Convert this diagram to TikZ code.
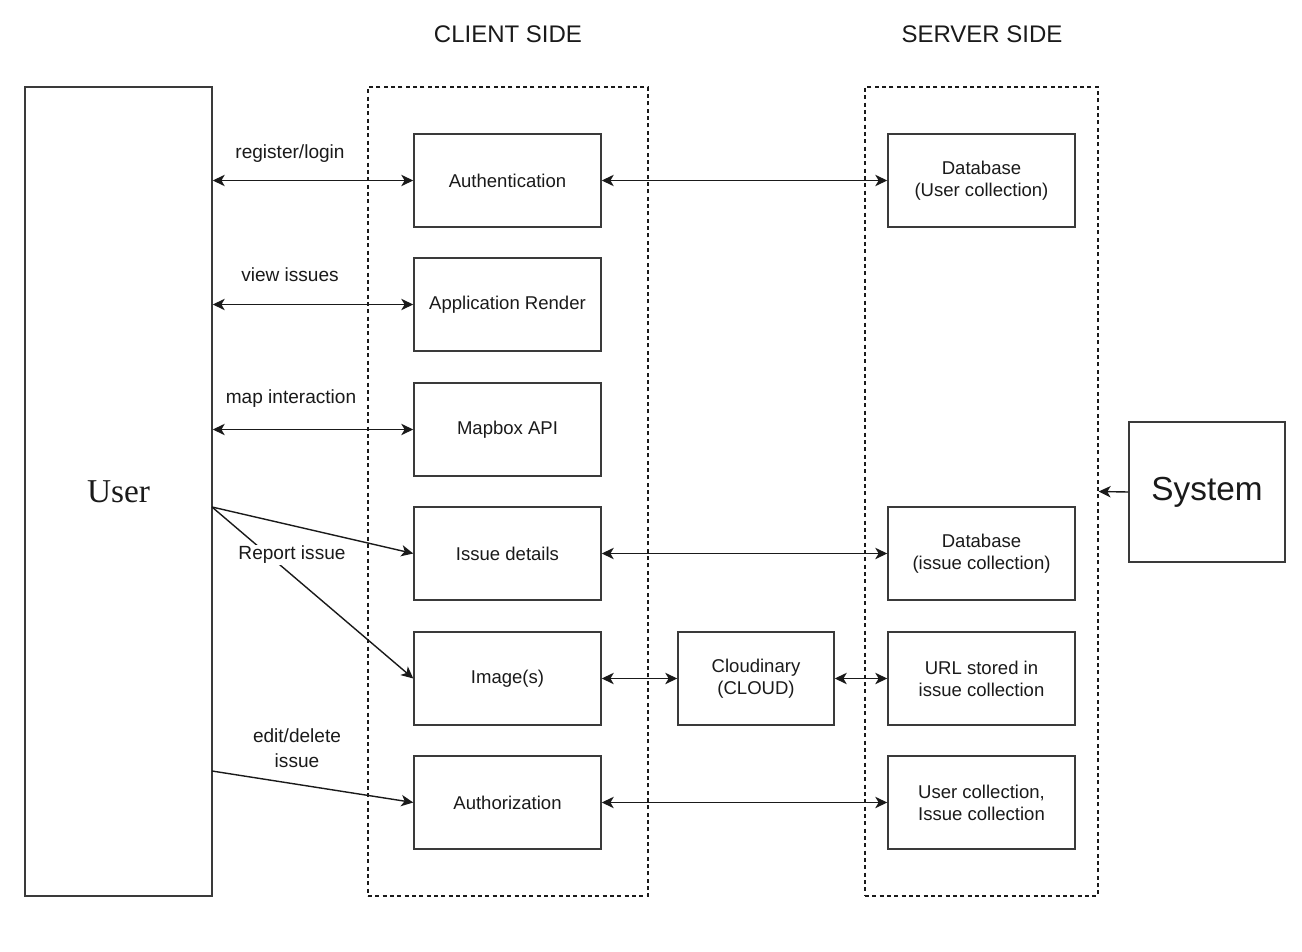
\documentclass[tikz,border=0pt]{standalone}
\usepackage{fontspec}
\setmainfont{Liberation Sans}
\newfontfamily\userfont{Liberation Serif}
\usetikzlibrary{arrows.meta}
\definecolor{boxgray}{HTML}{3A3A3A}
\definecolor{ink}{HTML}{1A1A1A}
\begin{document}
\begin{tikzpicture}[x=0.75pt,y=-0.75pt,
  box/.style={draw=boxgray, line width=1.1pt, inner sep=0pt, text=ink, align=center,
    minimum width=140.25pt, minimum height=69.75pt, font=\fontsize{13.9}{16.5}\selectfont},
  zone/.style={draw=ink, line width=0.9pt, dash pattern=on 3pt off 2.5pt, inner sep=0pt,
    minimum height=606.75pt},
  tip/.tip={Stealth[length=9pt,width=8.5pt,inset=2.5pt]},
  conn/.style={draw=ink, line width=1.05pt, -tip},
  biconn/.style={draw=ink, line width=1.05pt, tip-tip},
  lbl/.style={text=ink, align=center, inner sep=1pt, font=\fontsize{14.3}{18.7}\selectfont},
  head/.style={text=ink, font=\fontsize{18}{22}\selectfont}]
\useasboundingbox[fill=white] (0,0) rectangle (1302,952);

% zones
\node[zone, minimum width=210pt] (client) at (508,491.5) {};
\node[zone, minimum width=174.75pt] (server) at (981.5,491.5) {};
\node[head] (clienthead) at (508,34) {CLIENT SIDE};
\node[head] (serverhead) at (982,34) {SERVER SIDE};

% actors
\node[box, minimum width=140.25pt, minimum height=606.75pt, font=\userfont\fontsize{25}{28}\selectfont] (user) at (118.5,491.5) {User};
\node[box, minimum width=117pt, minimum height=105pt, font=\fontsize{25}{28}\selectfont] (system) at (1207,492) {System};

% client boxes
\node[box] (auth) at (507.5,180.5) {Authentication};
\node[box] (render) at (507.5,304.5) {Application Render};
\node[box] (mapbox) at (507.5,429.5) {Mapbox API};
\node[box] (details) at (507.5,553.5) {Issue details};
\node[box] (images) at (507.5,678.5) {Image(s)};
\node[box] (authz) at (507.5,802.5) {Authorization};

% cloud
\node[box, minimum width=117pt] (cloud) at (756,678.5) {Cloudinary\\(CLOUD)};

% server boxes
\node[box] (dbuser) at (981.5,180.5) {Database\\(User collection)};
\node[box] (dbissue) at (981.5,553.5) {Database\\(issue collection)};
\node[box] (url) at (981.5,678.5) {URL stored in\\issue collection};
\node[box] (colls) at (981.5,802.5) {User collection,\\Issue collection};

% user connectors
\draw[biconn] (user.east |- auth.west) -- (auth.west);
\draw[biconn] (user.east |- render.west) -- (render.west);
\draw[biconn] (user.east |- mapbox.west) -- (mapbox.west);
\coordinate (rp) at (212,507);
\coordinate (ed) at (212,771);
\draw[conn] (rp) -- (details.west);
\draw[conn] (rp) -- (images.west);
\draw[conn] (ed) -- (authz.west);

% labels
\node[lbl] (l1) at (290,154) {register/login};
\node[lbl] (l2) at (290,275) {view issues};
\node[lbl] (l3) at (291,399) {map interaction};
\node[lbl, fill=white] (l4) at (292,555) {Report issue};
\node[lbl] (l5) at (297,748) {edit/delete\\issue};

% server connectors
\draw[biconn] (auth.east) -- (dbuser.west);
\draw[biconn] (details.east) -- (dbissue.west);
\draw[biconn] (images.east) -- (cloud.west);
\draw[biconn] (cloud.east) -- (url.west);
\draw[biconn] (authz.east) -- (colls.west);

% system
\draw[conn] (system.west) -- (server.east);
\end{tikzpicture}
\end{document}
